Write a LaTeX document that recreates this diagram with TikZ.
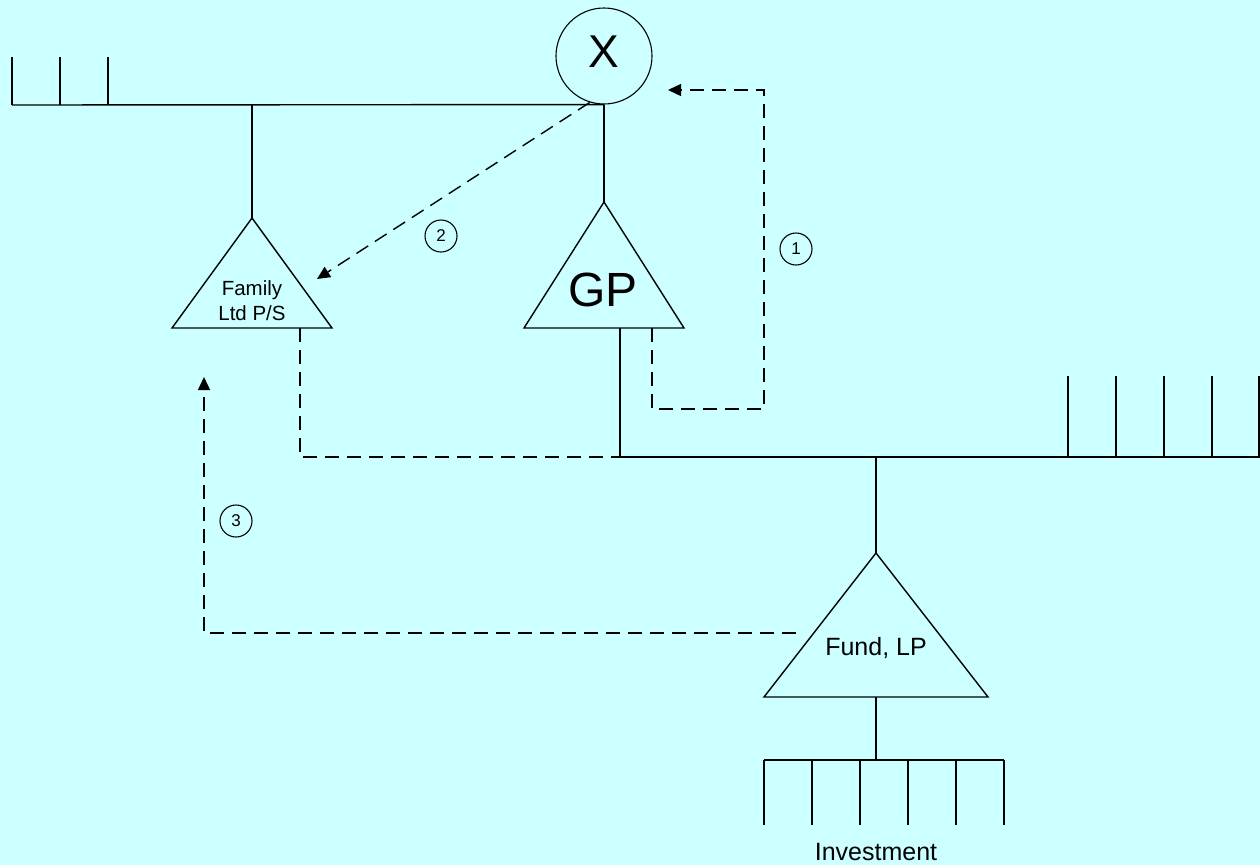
\documentclass[tikz,border=0pt]{standalone}
\usepackage{fontspec}
\setmainfont{Liberation Sans}
\usetikzlibrary{arrows.meta}
\definecolor{bgcyan}{RGB}{204,255,255}

\begin{document}
\begin{tikzpicture}[x=1pt,y=-1pt,>={Triangle[length=13pt,width=12pt]}]
\tikzset{own/.style={draw=black,line width=1.4pt}, flow/.style={draw=black,line width=1.4pt,dash pattern=on 14pt off 8pt},
  num/.style={draw,circle,line width=1.1pt,minimum size=32pt,inner sep=0pt,font=\fontsize{17}{17}\selectfont},
  lab/.style={align=center,inner sep=0pt}}
\fill[bgcyan] (0,0) rectangle (1260,865);
\useasboundingbox (0,0) rectangle (1260,865);

% owner and the entities
\node[draw,circle,line width=1.1pt,minimum size=96pt,inner sep=0pt,font=\fontsize{46}{46}\selectfont] (x) at (604,56) {\raisebox{8pt}{X}};
\coordinate (famTop) at (252,218);
\coordinate (gpTop) at (604,202);
\coordinate (fundTop) at (876,553);
\draw[own] (famTop) -- (332,328) -- (172,328) -- cycle;
\draw[own] (gpTop) -- (684,328) -- (524,328) -- cycle;
\draw[own] (fundTop) -- (988,697) -- (764,697) -- cycle;
\node[lab,font=\fontsize{20.5}{25}\selectfont] (fam) at (252,301) {Family\\Ltd P/S};
\node[lab,anchor=base,font=\fontsize{48}{48}\selectfont] (gp) at (603,306) {GP};
\node[lab,anchor=base,font=\fontsize{25}{25}\selectfont] (fund) at (876,655) {Fund, LP};
\node[lab,anchor=base,font=\fontsize{25}{25}\selectfont] (inv) at (876,860) {Investment};

% ownership lines
\coordinate (famJ) at (252,105);
\draw[own] (12,105) -- (x.south);
\foreach \t in {12,60,108} \draw[own] (\t,57) -- (\t,105);
\draw[own] (famJ) -- (famTop);
\draw[own] (x.south) -- (gpTop);
\coordinate (gpJ) at (620,457);
\coordinate (fundJ) at (876,457);
\draw[own] (620,328) -- (gpJ) -- (1260,457);
\foreach \t in {1068,1116,1164,1212,1259} \draw[own] (\t,376) -- (\t,457);
\draw[own] (fundJ) -- (fundTop);
\coordinate (invJ) at (876,760);
\draw[own] (876,697) -- (invJ);
\draw[own] (764,760) -- (1004,760);
\foreach \t in {764,812,860,908,956,1004} \draw[own] (\t,760) -- (\t,825);

% steps
\coordinate (gpOut) at (652,328);
\coordinate (xIn) at (668,90);
\coordinate (famIn) at (317,279);
\coordinate (famOut) at (300,328);
\coordinate (fundOut) at (796,633);
\coordinate (famUp) at (204,377);
\draw[flow,->] (gpOut) |- (764,409) |- (xIn);
\draw[flow,->] (x.253) -- (famIn);
\draw[flow] (famOut) |- (gpJ);
\draw[flow,->] (fundOut) -| (famUp);
\node[num] (n1) at (796,249) {1};
\node[num] (n2) at (441,236) {2};
\node[num] (n3) at (236,521) {3};
\end{tikzpicture}
\end{document}
